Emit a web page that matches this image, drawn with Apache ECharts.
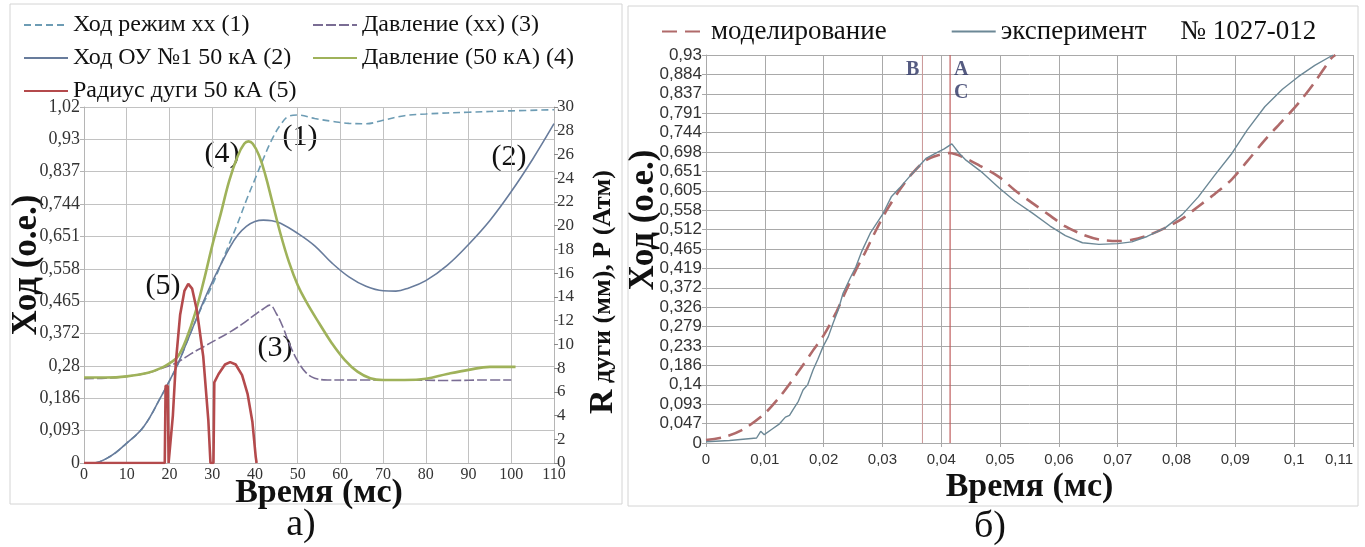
<!DOCTYPE html>
<html>
<head>
<meta charset="utf-8">
<script src="https://cdn.jsdelivr.net/npm/echarts@6/dist/echarts.min.js"></script>
<style>
html, body { margin: 0; padding: 0; background: #fff; }
#chart { width: 1365px; height: 547px; }
</style>
</head>
<body>
<div id="chart"></div>
<script>
// ---------- панель а) ----------
const timeTicksA = ['0', '10', '20', '30', '40', '50', '60', '70', '80', '90', '100', '110'];
const hodTicksA = ['0', '0,093', '0,186', '0,28', '0,372', '0,465', '0,558', '0,651', '0,744', '0,837', '0,93', '1,02'];
const pressTicksA = ['0', '2', '4', '6', '8', '10', '12', '14', '16', '18', '20', '22', '24', '26', '28', '30'];

// Ход режим хх (1), о.е.
const hodXX = [[0, 0], [2, 0], [6, 0.018], [10, 0.057], [14, 0.105], [18, 0.19], [20, 0.236], [22, 0.285],
  [24, 0.345], [26, 0.405], [28, 0.46], [30, 0.51], [32, 0.57], [34, 0.63], [36, 0.69], [38, 0.755],
  [40, 0.815], [42, 0.875], [44, 0.93], [46, 0.972], [48, 0.997], [50, 1.0], [54, 0.99], [58, 0.982],
  [62, 0.976], [66, 0.975], [70, 0.985], [75, 0.998], [80, 1.003], [90, 1.008], [100, 1.012], [110, 1.015]];
// Ход ОУ №1 50 кА (2), о.е.
const hodOU = [[0, 0], [2, 0], [6, 0.018], [10, 0.057], [14, 0.105], [18, 0.19], [20, 0.236], [22, 0.285],
  [24, 0.345], [26, 0.405], [28, 0.465], [30, 0.52], [32, 0.57], [34, 0.617], [36, 0.655], [38, 0.68],
  [40, 0.694], [42, 0.698], [44, 0.696], [46, 0.689], [50, 0.66], [54, 0.624], [58, 0.575], [62, 0.535],
  [66, 0.508], [70, 0.495], [73, 0.494], [76, 0.503], [80, 0.524], [85, 0.568], [90, 0.628], [95, 0.697],
  [100, 0.78], [105, 0.873], [110, 0.975]];
// Давление (хх) (3), атм
const davlXX = [[0, 7.1], [5, 7.15], [10, 7.3], [15, 7.6], [18, 7.95], [20, 8.2], [22, 8.5], [25, 9.2],
  [28, 9.8], [31, 10.4], [34, 11.0], [37, 11.7], [40, 12.5], [42, 13.0], [43.5, 13.3], [45, 12.6],
  [46.5, 11.5], [48, 10.1], [50, 8.6], [52, 7.6], [54, 7.15], [57, 7.0], [65, 7.0], [75, 7.0],
  [85, 6.95], [95, 7.0], [100, 7.0]];
// Давление (50 кА) (4), атм
const davl50 = [[0, 7.2], [5, 7.2], [10, 7.3], [15, 7.6], [18, 8.0], [20, 8.4], [22, 9.0], [24, 10.5],
  [26, 12.6], [28, 15.3], [30, 18.3], [32, 21.0], [34, 23.8], [36, 25.9], [37.5, 26.9], [38.5, 27.1],
  [39.5, 26.9], [41, 25.9], [42.5, 24.2], [44, 22.1], [46, 19.3], [48, 16.9], [50, 15.0], [52, 13.6],
  [55, 11.8], [58, 10.1], [61, 8.7], [64, 7.7], [67, 7.15], [70, 7.0], [75, 7.0], [80, 7.1], [85, 7.5],
  [90, 7.85], [95, 8.1], [101, 8.1]];
// Радиус дуги 50 кА (5), мм
const radius50 = [[0, 0], [18.9, 0], [19.1, 6.5], [19.6, 6.5], [19.8, 0], [20.2, 0], [20.8, 4], [21.5, 8.5],
  [22.5, 12.5], [23.5, 14.5], [24.4, 15.1], [25.3, 14.7], [26.4, 12.9], [27.9, 9.0], [29.1, 3.6], [29.6, 0],
  [30.3, 0], [30.5, 6.8], [31.5, 7.5], [33, 8.3], [34.2, 8.5], [35.5, 8.3], [37, 7.4], [38.3, 5.8],
  [39.4, 3.5], [40.2, 0.5], [40.4, 0]];

// ---------- панель б) ----------
const timeTicksB = ['0', '0,01', '0,02', '0,03', '0,04', '0,05', '0,06', '0,07', '0,08', '0,09', '0,1', '0,11'];
const hodTicksB = ['0', '0,047', '0,093', '0,14', '0,186', '0,233', '0,279', '0,326', '0,372', '0,419', '0,465',
  '0,512', '0,558', '0,605', '0,651', '0,698', '0,744', '0,791', '0,837', '0,884', '0,93'];

const modelirovanie = [[0, 0.007], [0.003, 0.014], [0.006, 0.03], [0.0097, 0.067], [0.0125, 0.11],
  [0.0145, 0.147], [0.0165, 0.187], [0.0182, 0.222], [0.02, 0.258], [0.0222, 0.315], [0.0238, 0.365],
  [0.0255, 0.415], [0.027, 0.455], [0.0288, 0.507], [0.0306, 0.555], [0.033, 0.608], [0.035, 0.645],
  [0.0374, 0.678], [0.0395, 0.69], [0.0414, 0.695], [0.0436, 0.686], [0.0465, 0.665], [0.0498, 0.638],
  [0.0525, 0.606], [0.0555, 0.575], [0.0585, 0.545], [0.0611, 0.519], [0.064, 0.5], [0.0668, 0.488],
  [0.07, 0.484], [0.0724, 0.487], [0.075, 0.497], [0.078, 0.515], [0.081, 0.538], [0.0837, 0.567],
  [0.0865, 0.597], [0.0894, 0.632], [0.092, 0.675], [0.095, 0.726], [0.098, 0.772], [0.1007, 0.814],
  [0.1035, 0.865], [0.1063, 0.922], [0.107, 0.93]];
const eksperiment = [[0, 0.003], [0.004, 0.006], [0.0086, 0.012], [0.0093, 0.028], [0.0099, 0.02],
  [0.0112, 0.033], [0.0125, 0.046], [0.0135, 0.062], [0.0142, 0.066], [0.0148, 0.08], [0.0157, 0.1],
  [0.0165, 0.127], [0.0173, 0.14], [0.0182, 0.175], [0.019, 0.2], [0.0199, 0.231], [0.0208, 0.255],
  [0.0216, 0.287], [0.0225, 0.32], [0.0233, 0.359], [0.0245, 0.395], [0.0255, 0.423], [0.0265, 0.46],
  [0.028, 0.505], [0.0301, 0.55], [0.0315, 0.59], [0.0329, 0.611], [0.035, 0.645], [0.0374, 0.682],
  [0.039, 0.694], [0.0405, 0.705], [0.0418, 0.717], [0.043, 0.695], [0.0442, 0.678], [0.047, 0.648],
  [0.0498, 0.612], [0.0525, 0.58], [0.0555, 0.551], [0.0585, 0.52], [0.0611, 0.497], [0.064, 0.48],
  [0.0668, 0.476], [0.07, 0.478], [0.0724, 0.482], [0.075, 0.495], [0.078, 0.515], [0.081, 0.548],
  [0.0837, 0.59], [0.0865, 0.642], [0.0894, 0.694], [0.092, 0.75], [0.095, 0.806], [0.098, 0.848],
  [0.1007, 0.878], [0.1035, 0.905], [0.1066, 0.93]];
// вертикальные отметки B и A/C
const markB = 0.0368;
const markAC = 0.0415;

const serif = '"Liberation Serif", "DejaVu Serif", serif';
const sans = '"Liberation Sans", Arial, sans-serif';
const gridA = '#c2c2c2';
const gridB = '#a9a9a9';

const chart = echarts.init(document.getElementById('chart'));

const txt = (x, y, text, font, rot) => ({
  type: 'text', x: x, y: y, rotation: rot || 0,
  style: { text: text, font: font, fill: '#111', align: 'center', verticalAlign: 'middle' }
});

chart.setOption({
  animation: false,
  backgroundColor: '#fff',
  graphic: [
    // рамки панелей
    { type: 'rect', shape: { x: 10, y: 4, width: 612, height: 500 }, style: { fill: 'none', stroke: '#d4d4d4', lineWidth: 1 }, z: -1 },
    { type: 'rect', shape: { x: 628, y: 6, width: 730, height: 500 }, style: { fill: 'none', stroke: '#d4d4d4', lineWidth: 1 }, z: -1 },
    // подписи осей
    txt(27, 265, 'Ход (о.е.)', 'bold 35px ' + serif, Math.PI / 2),
    {
      type: 'text', x: 603, y: 292, rotation: Math.PI / 2,
      style: {
        text: '{r|R} дуги (мм), P (Атм)', font: 'bold 26px ' + serif, fill: '#111',
        align: 'center', verticalAlign: 'middle',
        rich: { r: { font: 'bold 34px ' + serif, fill: '#111' } }
      }
    },
    txt(644, 220, 'Ход (о.е.)', 'bold 35px ' + serif, Math.PI / 2),
    // номера кривых
    txt(300, 137, '(1)', '30px ' + serif),
    txt(509, 157, '(2)', '30px ' + serif),
    txt(275, 348, '(3)', '30px ' + serif),
    txt(222, 154, '(4)', '30px ' + serif),
    txt(163, 286, '(5)', '30px ' + serif),
    // подписи панелей
    txt(301, 525, 'а)', '38px ' + serif),
    txt(990, 527, 'б)', '38px ' + serif)
  ],
  legend: [
    {
      data: ['Ход режим хх (1)', 'Ход ОУ №1 50 кА (2)', 'Радиус дуги 50 кА (5)'],
      orient: 'vertical', left: 18, top: 6, itemGap: 5, itemWidth: 44, itemHeight: 14,
      itemStyle: { color: 'rgba(0,0,0,0)', borderColor: 'rgba(0,0,0,0)', borderWidth: 0 },
      textStyle: { fontFamily: serif, fontSize: 24, lineHeight: 28, color: '#111' }
    },
    {
      data: ['Давление (хх) (3)', 'Давление (50 кА) (4)'],
      orient: 'vertical', left: 307, top: 6, itemGap: 5, itemWidth: 44, itemHeight: 14,
      itemStyle: { color: 'rgba(0,0,0,0)', borderColor: 'rgba(0,0,0,0)', borderWidth: 0 },
      textStyle: { fontFamily: serif, fontSize: 24, lineHeight: 28, color: '#111' }
    },
    {
      data: ['моделирование', 'эксперимент     № 1027-012'],
      orient: 'horizontal', left: 656, top: 13, itemGap: 64, itemWidth: 44, itemHeight: 14,
      itemStyle: { color: 'rgba(0,0,0,0)', borderColor: 'rgba(0,0,0,0)', borderWidth: 0 },
      textStyle: { fontFamily: serif, fontSize: 27, color: '#111' }
    }
  ],
  grid: [
    { left: 84, right: 811, top: 107, bottom: 84, outerBoundsMode: 'none' },
    { left: 706, right: 12, top: 55, bottom: 104, outerBoundsMode: 'none' }
  ],
  xAxis: [
    {
      gridIndex: 0, type: 'value', min: 0, max: 110, interval: 10,
      name: 'Время (мс)', nameLocation: 'middle', nameGap: 13, nameMoveOverlap: false,
      nameTextStyle: { fontFamily: serif, fontSize: 34, fontWeight: 'bold', color: '#111', verticalAlign: 'top' },
      axisLine: { lineStyle: { color: '#b5b5b5' } },
      axisTick: { show: false },
      axisLabel: { formatter: v => timeTicksA[Math.round(v / 10)], fontFamily: serif, fontSize: 16, color: '#333', margin: 4 },
      splitLine: { show: true, lineStyle: { color: gridA } }
    },
    {
      gridIndex: 1, type: 'value', min: 0, max: 0.11, interval: 0.01,
      name: 'Время (мс)', nameLocation: 'middle', nameGap: 27, nameMoveOverlap: false,
      nameTextStyle: { fontFamily: serif, fontSize: 34, fontWeight: 'bold', color: '#111', verticalAlign: 'top' },
      axisLine: { lineStyle: { color: gridB } },
      axisTick: { show: true, length: 4, lineStyle: { color: gridB } },
      axisLabel: { formatter: v => timeTicksB[Math.round(v / 0.01)], fontFamily: sans, fontSize: 15, color: '#333', margin: 9, alignMaxLabel: 'right' },
      splitLine: { show: true, lineStyle: { color: gridB } }
    }
  ],
  yAxis: [
    {
      gridIndex: 0, type: 'value', min: 0, max: 1.023, interval: 0.093, position: 'left',
      axisLine: { show: true, lineStyle: { color: '#b5b5b5' } },
      axisTick: { show: true, length: 4, lineStyle: { color: '#b5b5b5' } },
      axisLabel: { formatter: v => hodTicksA[Math.round(v / 0.093)], fontFamily: serif, fontSize: 18, color: '#333', margin: 4 },
      splitLine: { show: true, lineStyle: { color: gridA } }
    },
    {
      gridIndex: 0, type: 'value', min: 0, max: 30, interval: 2, position: 'right',
      axisLine: { show: true, lineStyle: { color: '#b5b5b5' } },
      axisTick: { show: true, length: 4, lineStyle: { color: '#888' } },
      axisLabel: { formatter: v => pressTicksA[Math.round(v / 2)], fontFamily: serif, fontSize: 17, color: '#333', margin: 3 },
      splitLine: { show: false }
    },
    {
      gridIndex: 1, type: 'value', min: 0, max: 0.93, interval: 0.0465, position: 'left',
      axisLine: { show: true, lineStyle: { color: gridB } },
      axisTick: { show: true, length: 4, lineStyle: { color: gridB } },
      axisLabel: { formatter: v => hodTicksB[Math.round(v / 0.0465)], fontFamily: sans, fontSize: 17, color: '#333', margin: 4 },
      splitLine: { show: true, lineStyle: { color: gridB } }
    }
  ],
  series: [
    {
      name: 'Ход режим хх (1)', type: 'line', xAxisIndex: 0, yAxisIndex: 0, data: hodXX,
      symbol: 'none', smooth: 0.4,
      color: '#6d9cb4', lineStyle: { color: '#6d9cb4', width: 1.6, type: [7, 4] }
    },
    {
      name: 'Ход ОУ №1 50 кА (2)', type: 'line', xAxisIndex: 0, yAxisIndex: 0, data: hodOU,
      symbol: 'none', smooth: 0.4,
      color: '#687c9c', lineStyle: { color: '#687c9c', width: 1.6 }
    },
    {
      name: 'Давление (хх) (3)', type: 'line', xAxisIndex: 0, yAxisIndex: 1, data: davlXX,
      symbol: 'none', smooth: 0.4,
      color: '#7a6d94', lineStyle: { color: '#7a6d94', width: 1.6, type: [10, 3] }
    },
    {
      name: 'Давление (50 кА) (4)', type: 'line', xAxisIndex: 0, yAxisIndex: 1, data: davl50,
      symbol: 'none', smooth: 0.4,
      color: '#9fb25a', lineStyle: { color: '#9fb25a', width: 2.6 }
    },
    {
      name: 'Радиус дуги 50 кА (5)', type: 'line', xAxisIndex: 0, yAxisIndex: 1, data: radius50,
      symbol: 'none',
      color: '#b44a4c', lineStyle: { color: '#b44a4c', width: 2.6 }
    },
    {
      name: 'отметка B', type: 'line', xAxisIndex: 1, yAxisIndex: 2, silent: true, symbol: 'none',
      data: [[markB, 0], [markB, 0.93]], lineStyle: { color: '#c99595', width: 1 }, z: 2
    },
    {
      name: 'отметка A', type: 'line', xAxisIndex: 1, yAxisIndex: 2, silent: true, symbol: 'none',
      data: [[markAC, 0], [markAC, 0.93]], lineStyle: { color: '#c05e5e', width: 1.2 }, z: 2
    },
    {
      name: 'моделирование', type: 'line', xAxisIndex: 1, yAxisIndex: 2, data: modelirovanie,
      symbol: 'none', smooth: 0.3, z: 3,
      color: '#b06a6a', lineStyle: { color: '#b06a6a', width: 2.6, type: [15, 8] }
    },
    {
      name: 'эксперимент     № 1027-012', type: 'line', xAxisIndex: 1, yAxisIndex: 2, data: eksperiment,
      symbol: 'none', z: 4,
      color: '#6c8896', lineStyle: { color: '#6c8896', width: 1.4 }
    },
    {
      name: 'метки', type: 'scatter', xAxisIndex: 1, yAxisIndex: 2, symbolSize: 0, silent: true,
      data: [
        { value: [markB, 0.894], label: { formatter: 'B', position: 'left', distance: 3 } },
        { value: [markAC, 0.894], label: { formatter: 'A', position: 'right', distance: 4 } },
        { value: [markAC, 0.839], label: { formatter: 'C', position: 'right', distance: 4 } }
      ],
      label: { show: true, fontFamily: serif, fontSize: 20, fontWeight: 'bold', color: '#2b3262' }
    }
  ]
});
</script>
</body>
</html>
